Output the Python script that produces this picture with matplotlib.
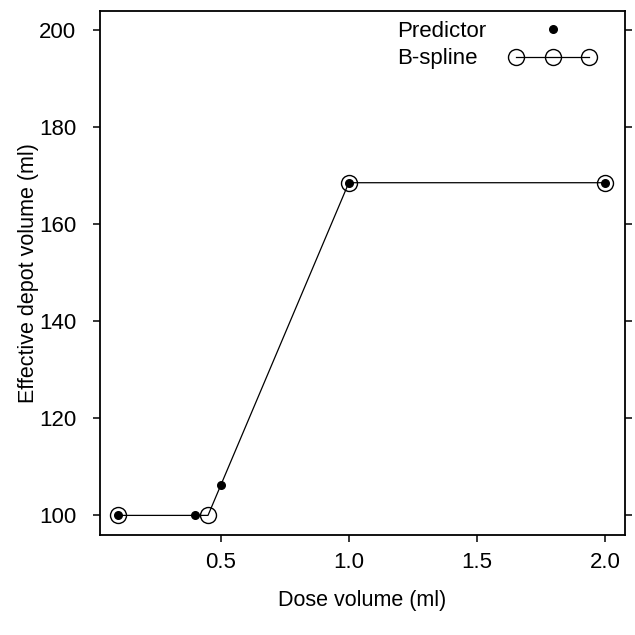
import matplotlib.pyplot as plt

plt.rcParams['font.family'] = ['Liberation Sans', 'DejaVu Sans']

# predictor points (filled dots)
pred_dose = [0.1, 0.4, 0.5, 1.0, 2.0]
pred_vol = [100, 100, 106.2, 168.5, 168.5]

# B-spline knots (open circles joined by line)
spline_dose = [0.1, 0.45, 1.0, 2.0]
spline_vol = [100, 100, 168.5, 168.5]

xticks = [0.5, 1.0, 1.5, 2.0]
xticklabels = ['0.5', '1.0', '1.5', '2.0']
yticks = [100, 120, 140, 160, 180, 200]
legend_labels = ['Predictor', 'B-spline']

fig = plt.figure(figsize=(6.35, 6.35), dpi=100)
ax = fig.add_axes([0.157, 0.157, 0.827, 0.826])

line, = ax.plot(spline_dose, spline_vol, color='black', linewidth=0.9,
                marker='o', markersize=11.5, markerfacecolor='none',
                markeredgecolor='black', markeredgewidth=1.0)
dots = ax.scatter(pred_dose, pred_vol, s=30, color='black', zorder=3)

ax.set_xlim(0.027, 2.078)
ax.set_ylim(95.9, 203.9)
ax.set_xticks(xticks)
ax.set_xticklabels(xticklabels)
ax.set_yticks(yticks)

ax.tick_params(axis='x', direction='out', length=5, width=1.1,
               labelsize=16, pad=7)
ax.tick_params(axis='y', direction='out', length=5, width=1.1,
               labelsize=16, pad=12, right=True)
for s in ax.spines.values():
    s.set_linewidth(1.3)

ax.set_xlabel('Dose volume (ml)', fontsize=15.5, labelpad=12)
ax.set_ylabel('Effective depot volume (ml)', fontsize=15.5, labelpad=0)

# legend: symbols from the legend, labels left-aligned as in the original
leg = ax.legend([dots, line], ['', ''], loc='upper left', frameon=False,
                fontsize=16, numpoints=3, scatterpoints=1,
                handlelength=3.85, handletextpad=0, borderpad=0,
                borderaxespad=0, labelspacing=0.41,
                bbox_to_anchor=(0.781, 0.985))
ax.text(0.5657, 0.960, legend_labels[0], transform=ax.transAxes,
        fontsize=16, va='center', ha='left')
ax.text(0.5657, 0.910, legend_labels[1], transform=ax.transAxes,
        fontsize=16, va='center', ha='left')

fig.savefig('out.png', dpi=100)
